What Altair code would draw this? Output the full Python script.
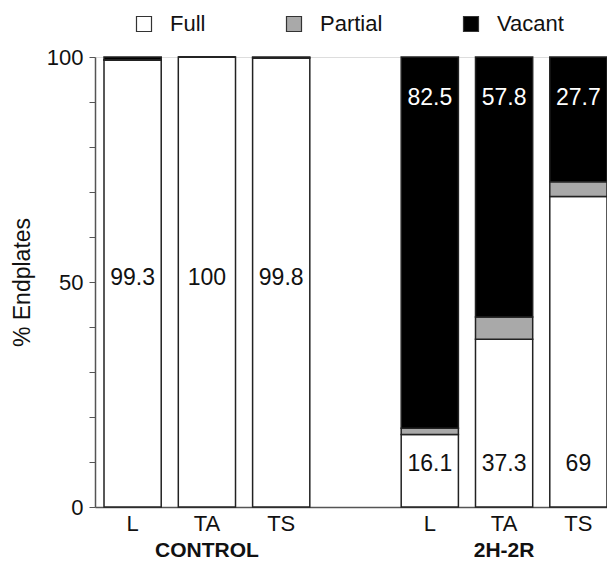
import altair as alt
import pandas as pd

groups = ["CONTROL", "CONTROL", "CONTROL", "2H-2R", "2H-2R", "2H-2R"]
tissues = ["L", "TA", "TS", "L", "TA", "TS"]
full = [99.3, 100.0, 99.8, 16.1, 37.3, 69.0]
partial = [0.1, 0.0, 0.0, 1.4, 4.9, 3.3]
vacant = [0.6, 0.0, 0.2, 82.5, 57.8, 27.7]
full_labels = ["99.3", "100", "99.8", "16.1", "37.3", "69"]
vacant_labels = ["", "", "", "82.5", "57.8", "27.7"]
statuses = ["Full", "Partial", "Vacant"]
colors = ["#ffffff", "#a9a9a9", "#000000"]

keys = [f"{g}|{t}" for g, t in zip(groups, tissues)]
domain = keys[:3] + ["|"] + keys[3:]

rows = []
for k, f, p, v in zip(keys, full, partial, vacant):
    for i, (s, val) in enumerate(zip(statuses, [f, p, v])):
        rows.append({"key": k, "status": s, "value": val, "order": i})
bars_df = pd.DataFrame(rows)

lab_rows = []
for k, g, fl, vl in zip(keys, groups, full_labels, vacant_labels):
    lab_rows.append({"key": k, "text": fl, "ypos": 51 if g == "CONTROL" else 9.5, "col": "#111111"})
    if vl:
        lab_rows.append({"key": k, "text": vl, "ypos": 91, "col": "white"})
lab_df = pd.DataFrame(lab_rows)

grp_df = pd.DataFrame({"key": [keys[1], keys[4]], "text": ["CONTROL", "2H-2R"]})

FONT = "Liberation Sans"

xscale = alt.Scale(domain=domain, paddingInner=0.23, paddingOuter=0.0606, align=1)

x_enc = alt.X(
    "key:N",
    scale=xscale,
    axis=alt.Axis(
        title=None,
        labelExpr="split(datum.value, '|')[1]",
        ticks=False,
        labelAngle=0,
        labelFont=FONT,
        labelFontSize=22,
        labelColor="#111",
        labelPadding=6,
        domainColor="#555",
        domainWidth=1.5,
    ),
)

bars = alt.Chart(bars_df).mark_bar(stroke="#222", strokeWidth=1.5).encode(
    x=x_enc,
    y=alt.Y(
        "value:Q",
        stack="zero",
        scale=alt.Scale(domain=[0, 100], nice=False),
        axis=alt.Axis(
            title="% Endplates",
            values=list(range(0, 101, 10)),
            labelExpr="datum.value % 50 == 0 ? datum.label : ''",
            grid=False,
            tickSize=6,
            tickColor="#555",
            domainColor="#555",
            domainWidth=1.5,
            labelFont=FONT,
            labelFontSize=22,
            labelColor="#111",
            labelPadding=6,
            titleFont=FONT,
            titleFontSize=23,
            titleFontWeight="normal",
            titleColor="#111",
            titlePadding=12,
        ),
    ),
    color=alt.Color(
        "status:N",
        scale=alt.Scale(domain=statuses, range=colors),
        legend=alt.Legend(
            title=None,
            orient="none",
            direction="horizontal",
            legendX=38,
            legendY=-44,
            symbolType="square",
            symbolSize=225,
            symbolStrokeColor="#333",
            symbolStrokeWidth=1.2,
            symbolOpacity=1,
            labelFont=FONT,
            labelFontSize=22,
            labelColor="#111",
            columnPadding=77,
            labelOffset=15,
        ),
    ),
    order=alt.Order("order:Q"),
)

labels = alt.Chart(lab_df).mark_text(font=FONT, fontSize=23, baseline="middle").encode(
    x=alt.X("key:N", scale=xscale),
    y=alt.Y("ypos:Q"),
    text="text:N",
    color=alt.Color("col:N", scale=None),
)

grp = alt.Chart(grp_df).mark_text(font=FONT, fontSize=21, fontWeight="bold", baseline="middle", color="#111").encode(
    x=alt.X("key:N", scale=xscale),
    y=alt.value(494),
    text="text:N",
)

chart = (
    alt.layer(bars, labels, grp)
    .properties(
        width=512,
        height=450,
        autosize=alt.AutoSizeParams(type="none"),
        padding={"left": 87, "top": 49, "right": 0, "bottom": 58},
    )
    .configure_view(stroke=None)
    .configure(background="white")
)

chart.save("out.html", embed_options={"renderer": "svg", "actions": False})
